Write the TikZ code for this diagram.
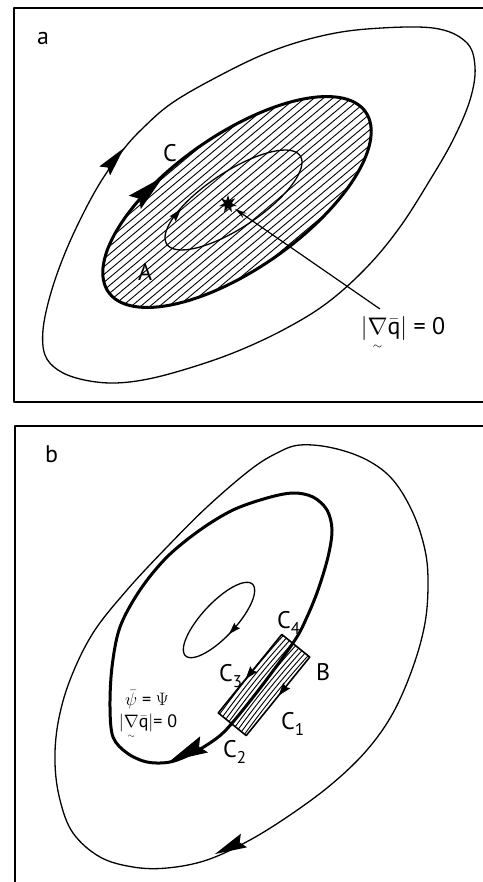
\RequirePackage{fix-cm}
\documentclass[tikz,border=0pt]{standalone}
\usepackage{fontspec}
\setmainfont{PT Sans}
\usepackage{amsmath}
\usetikzlibrary{arrows.meta,shapes.geometric}
\pgfmathdeclarefunction{ellx}{5}{\pgfmathparse{#1+#2*cos(#5)*cos(#4)-#3*sin(#5)*sin(#4)}}
\pgfmathdeclarefunction{elly}{5}{\pgfmathparse{#1-(#2*cos(#5)*sin(#4)+#3*sin(#5)*cos(#4))}}
\newcommand{\lowsub}[1]{\raisebox{-6pt}{\fontsize{17}{17}\selectfont #1}}
\newcommand{\gradq}{|\underset{\scriptscriptstyle\sim}{\nabla}\bar{\textnormal{q}}|}
% filled arrow head: tip x, tip y, canvas angle, length, width
\newcommand{\arrhead}[5]{\fill[shift={(#1,#2)},rotate=#3] (0,0) -- (-#4,0.5*#5) -- (-0.85*#4,0) -- (-#4,-0.5*#5) -- cycle;}
\begin{document}
\begin{tikzpicture}[x=1pt,y=-1pt,line join=round,
  frame/.style={line width=1.8pt},
  thincurve/.style={line width=1.3pt},
  thickcurve/.style={line width=3pt},
  hatch/.style={line width=0.9pt},
  lbl/.style={inner sep=0pt,font=\fontsize{24}{28}\selectfont},
  slbl/.style={inner sep=0pt,font=\fontsize{18}{22}\selectfont}]
\useasboundingbox (0,0) rectangle (482,882);

% ---------- panel a ----------
\draw[frame] (484,8) -- (14,8) -- (14,402) -- (484,402);
\node[lbl,anchor=base west] (la) at (37,45) {a};

% outer curve
\draw[thincurve] plot[smooth cycle,tension=0.6] coordinates {
 (433,28) (367,29) (317,37) (267,53) (217,77) (172,103) (143,128) (123,150)
 (100,183) (80,220) (63,258) (50,296) (43,330) (45,355) (58,370) (80,379)
 (110,383) (143,380) (183,370) (233,353) (283,330) (327,303) (367,267)
 (400,227) (430,180) (453,140) (470,100) (475,67) (466,42)};
\arrhead{124}{148}{50}{30}{14}

% hatched region A
\begin{scope}
 \clip plot[domain=0:360,samples=120] ({ellx(237,157,67,35,\x)},{elly(202,157,67,35,\x)}) -- cycle;
 \begin{scope}[rotate around={40:(237,202)}]
  \foreach \k in {-30,...,30}
   \draw[hatch] (37,202+6*\k) -- (437,202+6*\k);
 \end{scope}
\end{scope}
\draw[thickcurve] plot[domain=0:360,samples=120] ({ellx(237,157,67,35,\x)},{elly(202,157,67,35,\x)}) -- cycle;
\arrhead{163}{177}{42}{38}{18}

% inner ellipse
\draw[thincurve] plot[domain=0:360,samples=100] ({ellx(233.5,80,28,33.5,\x)},{elly(200,80,28,33.5,\x)}) -- cycle;
\arrhead{181}{209}{50}{13}{8}

\node[lbl,anchor=base west] (lC) at (163,162) {C};
\node[lbl,anchor=base west] (lA) at (138,280) {A};

\node[star,star points=7,star point ratio=2.3,fill=black,minimum size=18pt,inner sep=0pt] (star) at (228,204) {};
\node[inner sep=0pt,font=\fontsize{24}{28}\selectfont] (grad) at (403,334) {$\gradq$ = 0};
\coordinate (gradtop) at (380,309);
\draw[line width=1.2pt,-{Stealth[length=12pt,width=6pt]},shorten >=4pt] (gradtop) -- (star);

% ---------- panel b ----------
\draw[frame] (484,426) -- (15,426) -- (15,884);
\node[lbl,anchor=base west] (lb) at (45,462) {b};

% outer curve
\draw[thincurve] plot[smooth cycle,tension=0.6] coordinates {
 (300,445) (333,448) (367,460) (393,480) (413,513) (425,550) (428,583)
 (425,623) (413,667) (393,713) (367,750) (333,783) (293,813) (250,840)
 (207,860) (167,868) (133,867) (100,857) (73,833) (60,800) (55,763)
 (58,723) (70,680) (93,633) (127,590) (167,547) (207,507) (250,470) (277,453)};
\arrhead{215}{854}{205}{32}{15}

% inner ellipse
\draw[thincurve] plot[domain=0:360,samples=100] ({ellx(219,49,17,47,\x)},{elly(620,49,17,47,\x)}) -- cycle;
\arrhead{229}{634}{226}{12}{8}

% box B
\begin{scope}[rotate around={51:(264,685)}]
 \fill[white] (213.5,667) rectangle (314.5,703);
 \begin{scope}
  \clip (213.5,667) rectangle (314.5,703);
  \foreach \k in {-16,-12,...,18}
   \draw[line width=0.9pt] (210,685+\k) .. controls (250,685+\k-2) and (280,685+\k-2) .. (318,685+\k);
 \end{scope}
 \draw[line width=1.6pt] (213.5,667) rectangle (314.5,703);
 \arrhead{257}{667}{180}{13}{9}
 \arrhead{265}{703}{180}{13}{9}
\end{scope}

% thick contour psi = Psi
\draw[thickcurve] plot[smooth cycle,tension=0.55] coordinates {
 (233,722) (217,738) (193,753) (170,762) (147,762) (127,753) (113,737)
 (110,707) (112,667) (120,627) (140,590) (167,557) (200,530) (233,510)
 (267,498) (293,493) (313,497) (327,510) (332,530) (328,557) (318,590)
 (307,617) (295,640) (264,683)};
\arrhead{170}{761}{206}{38}{18}

\node[lbl,anchor=base west] (lC4) at (277,628) {C\lowsub{4}};
\node[lbl,anchor=base west] (lC3) at (219,681) {C\lowsub{3}};
\node[lbl,anchor=base west] (lC1) at (281,729) {C\lowsub{1}};
\node[lbl,anchor=base west] (lC2) at (223,757) {C\lowsub{2}};
\node[lbl,anchor=base west] (lB) at (316,680) {B};
\node[slbl] (psi) at (147,700) {$\bar{\psi}$ = $\Psi$};
\node[slbl] (gradb) at (148,727) {$\gradq$= 0};
\end{tikzpicture}
\end{document}
